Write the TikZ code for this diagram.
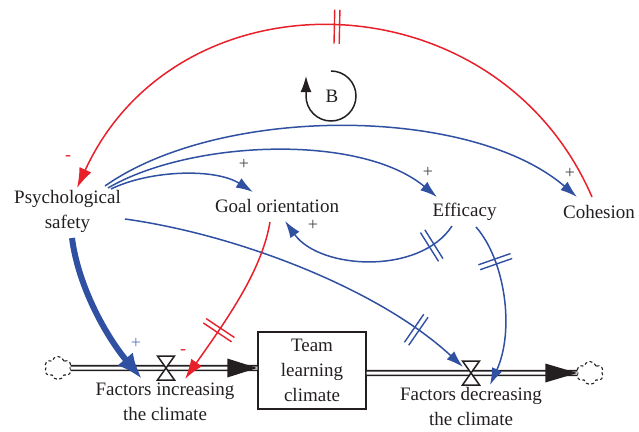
\documentclass[tikz,border=0pt]{standalone}
\usepackage{fontspec}
\setmainfont{Liberation Serif}
\usepackage{tikz}
\usetikzlibrary{arrows.meta, shapes.symbols, decorations.markings}
\definecolor{bleu}{HTML}{3050A2}
\definecolor{bleuclair}{HTML}{5A78C8}
\definecolor{rouge}{HTML}{E8202A}
\definecolor{encre}{HTML}{231F20}
\definecolor{gris}{HTML}{444444}

\tikzset{
  delaymark/.style={postaction={decorate, decoration={markings,
    mark=at position #1 with {\draw[-, line width=1.4pt] (-2.6pt,-17pt) -- (-2.6pt,17pt) (2.6pt,-17pt) -- (2.6pt,17pt);}}}}
}

\begin{document}
\begin{tikzpicture}[x=1pt, y=-1pt,
    varname/.style={font=\fontsize{19}{25}\selectfont, align=center, text=encre, inner sep=0pt},
    polarity/.style={font=\fontsize{18}{18}\selectfont, inner sep=0pt},
    link/.style={bleu, line width=1.5pt, -{Latex[length=17pt,width=11pt]}},
    inhib/.style={rouge, line width=1.5pt, -{Latex[length=20pt,width=13pt]}},
    pipe/.style={encre, line width=1.6pt, double=white, double distance=3pt},
    valve/.style={encre, fill=white, line width=1.5pt, line join=miter},
    source/.style={cloud, cloud puffs=6, aspect=1.1, draw=encre, dash pattern=on 3pt off 2.5pt, line width=1.1pt, minimum width=27pt, minimum height=23pt, inner sep=0pt}]
    \node[varname] (psych) at (67.5,211.5) {Psychological\\safety};
    \node[varname] (goal) at (277,205.5) {Goal orientation};
    \node[varname] (eff) at (464.5,212) {Efficacy};
    \node[varname] (coh) at (599,212) {Cohesion};
    \node[varname, draw=encre, line width=1.4pt, minimum width=108pt, minimum height=77pt] (climate) at (312,370.5) {Team\\learning\\climate};
    \node[source] (srcin) at (58,368) {};
    \node[source] (sinkout) at (590,373) {};
    \coordinate (vin) at (166,368);
    \coordinate (vout) at (471,373);
    \node[varname] (inflow) at (165,401.5) {Factors increasing\\the climate};
    \node[varname] (outflow) at (471,406.5) {Factors decreasing\\the climate};
    \draw[pipe] (srcin.east) -- (vin) -- (vin -| climate.west);
    \draw[pipe] (vout -| climate.east) -- (vout) -- (sinkout.west);
    \fill[encre] (vin -| climate.west) -- ++(-30,-9.5) -- ++(0,19) -- cycle;
    \fill[encre] (sinkout.west) -- ++(-32,-9.5) -- ++(0,19) -- cycle;
    \foreach \v in {vin, vout} {
      \draw[valve] (\v) ++(-8.5,-12) -- ++(17,0) -- ++(-17,24) -- ++(17,0) -- cycle;
    }
    \draw[encre, line width=1.5pt, -{Latex[length=16pt,width=11pt]}] (331,71) arc[start angle=-90, end angle=180, radius=25] -- ++(0,-20);
    \node[font=\fontsize{19}{19}\selectfont, text=encre] (loopb) at (332,96) {B};
    \draw[inhib, delaymark=0.5] ([shift={(-7,-15)}]coh.center) .. controls (496,-25) and (178,-32) .. ([shift={(9.5,-23.5)}]psych.center);
    \draw[link] ([shift={(37.5,-25.5)}]psych.center) .. controls (220,105) and (470,105) .. ([shift={(-22,-15)}]coh.center);
    \draw[link] ([shift={(40.5,-23.5)}]psych.center) .. controls (190,140) and (360,133) .. ([shift={(-27.5,-15)}]eff.center);
    \draw[link] ([shift={(43.5,-22.5)}]psych.center) .. controls (150,170) and (215,168) .. ([shift={(-24,-13.5)}]goal.center);
    \draw[link, delaymark=0.15] ([shift={(-12.5,14)}]eff.center) .. controls (420,275) and (320,270) .. ([shift={(8,15.5)}]goal.center);
    \draw[link, delaymark=0.24] ([shift={(11.5,15)}]eff.center) .. controls (505,260) and (515,330) .. ([shift={(19,12)}]vout);
    \draw[link, delaymark=0.84] ([shift={(57.5,7.5)}]psych.center) .. controls (240,235) and (380,290) .. ([shift={(-8,-6)}]vout);
    \draw[inhib, delaymark=0.67] ([shift={(-7,16.5)}]goal.center) .. controls (262,270) and (228,318) .. ([shift={(19,11)}]vin);
    \draw[bleu, line width=6pt, -{Latex[length=26pt,width=20pt]}] ([shift={(4.5,26.5)}]psych.center) .. controls (78,285) and (105,335) .. ([shift={(-24,11)}]vin);
    \foreach \px/\py/\col/\sgn [count=\i] in {68/158/rouge/-, 136/343/bleuclair/+, 183/352/rouge/-, 244/164/gris/+, 313/225/gris/+, 428/172/gris/+, 570/173/gris/+} {
      \node[polarity, text=\col] (pol\i) at (\px,\py) {\sgn};
    }
    \pgfresetboundingbox
    \useasboundingbox (0,0) rectangle (639,431);
\end{tikzpicture}
\end{document}
